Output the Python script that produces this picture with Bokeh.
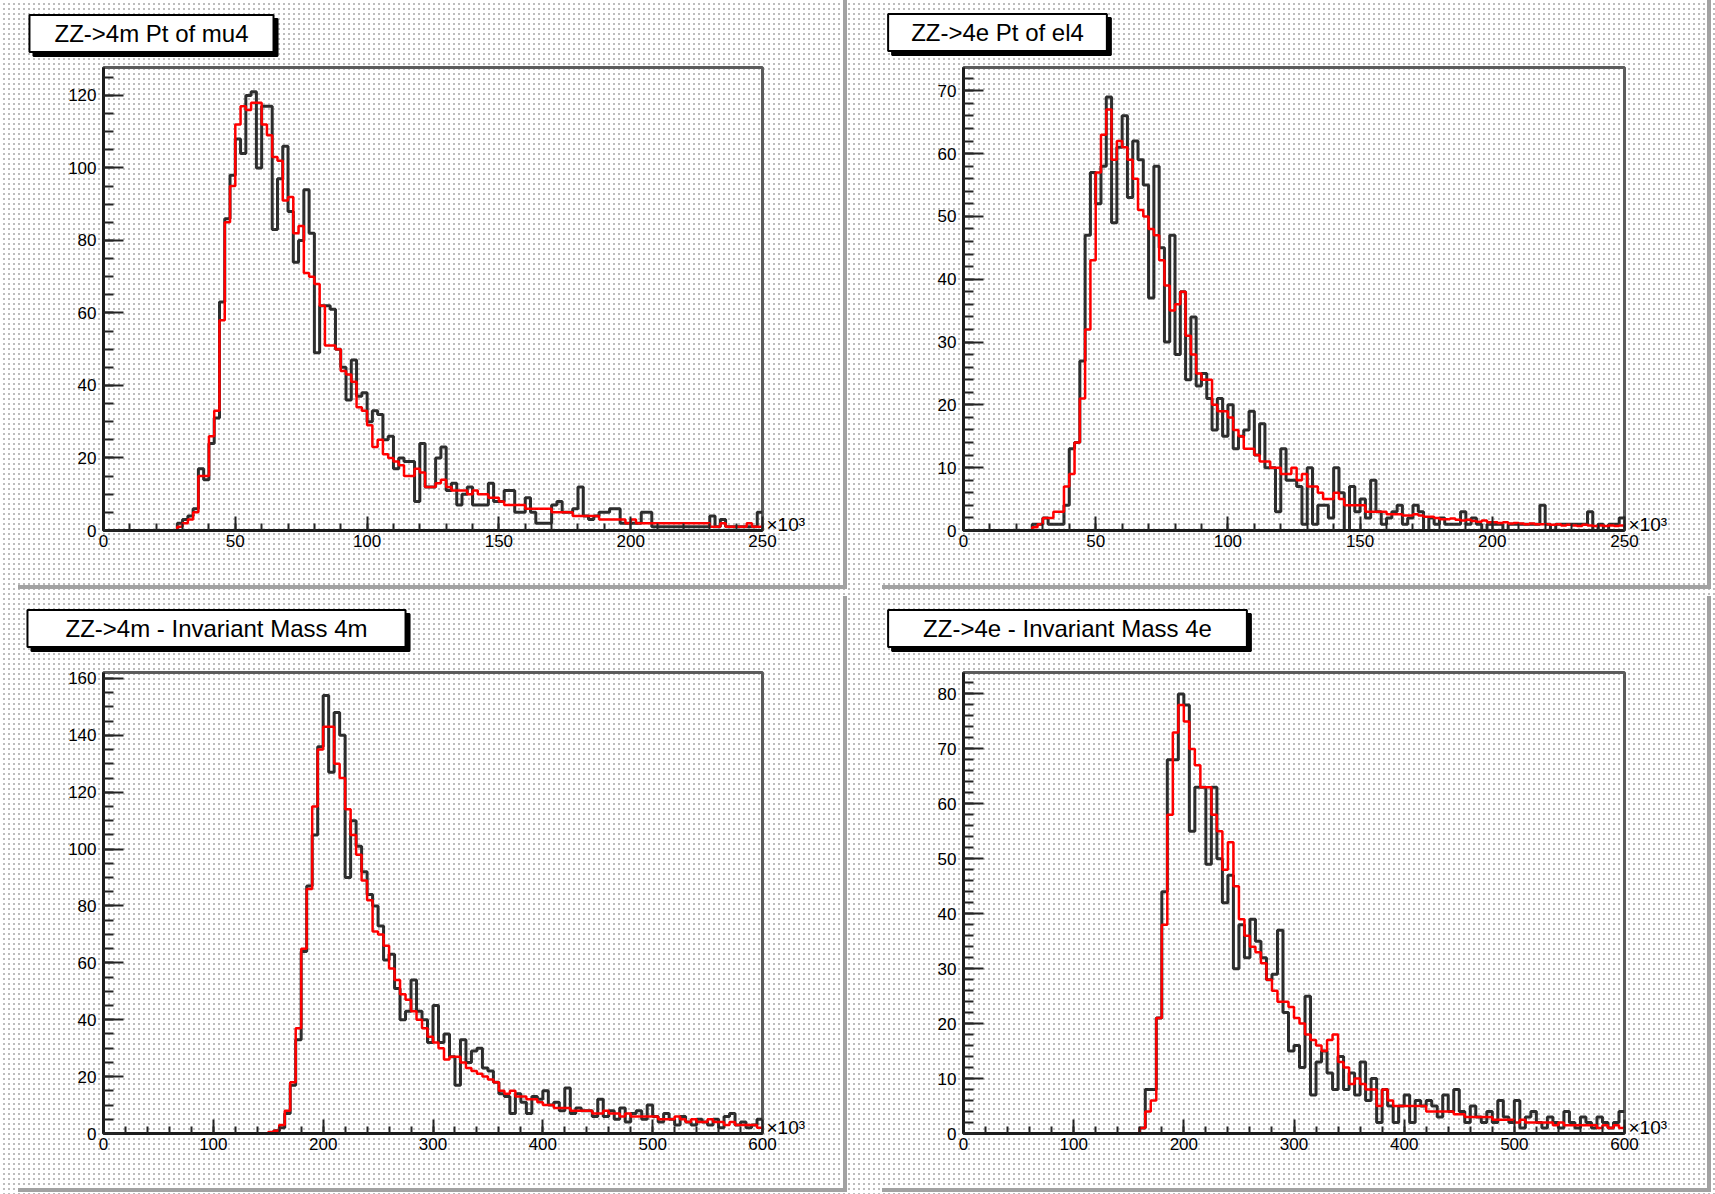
import numpy as np
from bokeh.plotting import figure
from bokeh.layouts import column, row
from bokeh.models import Range1d, SingleIntervalTicker, Label
from bokeh.embed import file_html
from bokeh.resources import INLINE

# ---------------- data ----------------
TITLES = ["ZZ->4m Pt of mu4", "ZZ->4e Pt of el4",
          "ZZ->4m - Invariant Mass 4m", "ZZ->4e - Invariant Mass 4e"]

PT_BIN_WIDTH = 2.0     # units of 10^3
MASS_BIN_WIDTH = 5.0   # units of 10^3

MU_PT_BLACK = [
    0, 0, 0, 0, 0, 0, 0, 0, 0, 0,
    0, 0, 0, 0, 2, 3, 4, 6, 17, 14,
    24, 31, 63, 86, 98, 108, 104, 120, 121, 100,
    117, 117, 83, 97, 106, 88, 74, 80, 94, 82,
    49, 62, 62, 61, 50, 45, 36, 47, 37, 38,
    30, 33, 32, 25, 26, 17, 20, 19, 19, 8,
    24, 12, 12, 20, 23, 11, 13, 7, 10, 12,
    7, 7, 7, 13, 8, 8, 11, 11, 5, 5,
    9, 5, 2, 2, 2, 7, 8, 5, 5, 6,
    12, 4, 3, 4, 5, 5, 6, 6, 2, 2,
    2, 2, 5, 5, 1, 1, 1, 1, 1, 1,
    1, 1, 1, 1, 1, 4, 1, 3, 1, 1,
    1, 1, 1, 1, 5]
MU_PT_RED = [
    0, 0, 0, 0, 0, 0, 0, 0, 0, 0,
    0, 0, 0, 0, 1, 2, 3, 5, 15, 15,
    26, 33, 58, 85, 95, 112, 117, 116, 118, 118,
    112, 109, 103, 102, 91, 92, 82, 84, 71, 70,
    68, 62, 51, 51, 50, 44, 43, 41, 34, 33,
    29, 23, 25, 21, 20, 19, 18, 15, 15, 17,
    16, 12, 12, 13, 14, 12, 11, 11, 11, 10,
    11, 10, 10, 9, 9, 8, 7, 7, 7, 7,
    6, 6, 6, 6, 6, 5, 5, 5, 5, 4,
    4, 4, 4, 4, 3, 3, 3, 3, 3, 2,
    3, 2, 2, 2, 2, 2, 2, 2, 2, 2,
    2, 2, 2, 2, 2, 1, 1, 2, 1, 1,
    1, 1, 2, 1, 1]

EL_PT_BLACK = [
    0, 0, 0, 0, 0, 0, 0, 0, 0, 0,
    0, 0, 0, 1, 1, 2, 1, 1, 1, 4,
    13, 14, 27, 47, 57, 52, 58, 69, 49, 61,
    66, 53, 62, 59, 55, 37, 58, 45, 30, 47,
    28, 38, 24, 34, 23, 25, 21, 16, 21, 15,
    20, 13, 15, 16, 19, 12, 17, 10, 10, 3,
    13, 8, 8, 7, 1, 10, 1, 4, 4, 2,
    10, 6, 0, 7, 3, 5, 2, 8, 3, 1,
    2, 3, 4, 1, 2, 4, 3, 0, 2, 1,
    2, 1, 1, 1, 3, 1, 2, 1, 0, 1,
    1, 1, 0, 1, 1, 1, 1, 1, 1, 4,
    1, 0, 1, 1, 1, 1, 1, 1, 3, 0,
    1, 0, 1, 1, 2]
EL_PT_RED = [
    0, 0, 0, 0, 0, 0, 0, 0, 0, 0,
    0, 0, 0, 0.5, 1, 2, 2, 3, 3, 7,
    9, 14, 21, 32, 43, 57, 63, 67, 59, 62,
    61, 59, 56, 51, 50, 48, 47, 43, 39, 35,
    36, 38, 31, 28, 25, 24, 24, 20, 19, 19,
    18, 16, 15, 13, 13, 12, 11, 11, 10, 10,
    9, 9, 10, 8, 9, 7, 7, 6, 5, 5,
    6, 5, 4, 4, 4, 4, 3, 3, 3, 3,
    2.6, 2.6, 2.6, 2.4, 2.4, 2.6, 2.4, 2.2, 2.2, 2,
    1.8, 1.8, 1.9, 1.7, 1.6, 1.7, 1.5, 1.4, 1.6, 1.3,
    1.3, 1.2, 1.3, 1.1, 1.2, 1.1, 1, 1.1, 1, 1,
    1, 0.9, 1, 0.8, 0.9, 0.8, 0.7, 0.9, 0.8, 0.7,
    0.8, 0.7, 0.8, 0.7, 0.8]

MU_MASS_BLACK = [
    0, 0, 0, 0, 0, 0, 0, 0, 0, 0,
    0, 0, 0, 0, 0, 0, 0, 0, 0, 0,
    0, 0, 0, 0, 0, 0, 0, 0, 0, 0,
    0, 1, 2, 7, 17, 33, 64, 87, 105, 136,
    154, 127, 148, 140, 90, 110, 101, 92, 84, 80,
    73, 61, 63, 51, 40, 43, 54, 43, 40, 32,
    45, 32, 35, 27, 17, 33, 25, 29, 30, 23,
    22, 18, 14, 13, 7, 14, 11, 7, 13, 12,
    15, 10, 11, 8, 16, 7, 9, 8, 8, 6,
    12, 6, 8, 5, 9, 4, 7, 8, 5, 10,
    6, 4, 7, 5, 3, 6, 4, 3, 5, 4,
    3, 5, 2, 6, 7, 3, 4, 2, 3, 5]
MU_MASS_RED = [
    0, 0, 0, 0, 0, 0, 0, 0, 0, 0,
    0, 0, 0, 0, 0, 0, 0, 0, 0, 0,
    0, 0, 0, 0, 0, 0, 0, 0, 0, 0,
    0.5, 1, 3, 8, 18, 37, 65, 86, 115, 135,
    143, 143, 130, 125, 114, 105, 98, 89, 82, 71,
    70, 66, 58, 54, 49, 47, 43, 40, 37, 34,
    32, 30, 26, 27, 27, 25, 23, 22, 21, 20,
    19, 18, 15, 14, 15, 13, 13, 12, 12, 11,
    10, 10, 9, 9, 9, 8, 8, 8, 8, 7,
    7, 8, 7, 7, 6, 7, 6, 6, 6, 6,
    6, 5, 5, 5, 6, 5, 4, 5, 4, 4,
    5, 4, 4, 3, 4, 3, 3, 3, 3, 2]

EL_MASS_BLACK = [
    0, 0, 0, 0, 0, 0, 0, 0, 0, 0,
    0, 0, 0, 0, 0, 0, 0, 0, 0, 0,
    0, 0, 0, 0, 0, 0, 0, 0, 0, 0,
    0, 0, 1, 8, 8, 21, 44, 68, 68, 80,
    78, 55, 63, 63, 49, 63, 50, 42, 47, 30,
    38, 32, 39, 35, 32, 28, 29, 37, 22, 15,
    16, 12, 25, 7, 13, 15, 11, 8, 14, 8,
    11, 7, 13, 6, 10, 2, 8, 5, 2, 5,
    7, 2, 6, 5, 6, 5, 3, 7, 4, 8,
    4, 2, 5, 3, 2, 4, 2, 6, 3, 2,
    6, 1, 3, 4, 2, 1, 3, 2, 1, 4,
    2, 1, 3, 2, 1, 3, 2, 1, 2, 4]
EL_MASS_RED = [
    0, 0, 0, 0, 0, 0, 0, 0, 0, 0,
    0, 0, 0, 0, 0, 0, 0, 0, 0, 0,
    0, 0, 0, 0, 0, 0, 0, 0, 0, 0,
    0, 0, 1, 4, 6, 21, 38, 58, 73, 78,
    75, 70, 67, 63, 63, 58, 55, 48, 53, 45,
    39, 36, 34, 33, 31, 28, 26, 24, 24, 23,
    21, 20, 18, 17, 16, 15, 17, 18, 13, 12,
    9, 10, 9, 8, 8, 5, 8, 6, 5, 5,
    5, 5, 5, 5, 4, 4, 4, 4, 4, 3.5,
    3.5, 3, 3, 3, 3, 3, 2.5, 2.5, 2.5, 2.5,
    2, 2.5, 2, 2, 2, 2, 2, 1.5, 2, 1.5,
    1.5, 1.5, 1.5, 1.5, 1.5, 1, 1.5, 1, 1.5, 1]

X_MAX = [250, 250, 600, 600]
Y_MAX = [127.7, 73.7, 162.1, 83.9]
X_TICK = [50, 50, 100, 100]
Y_TICK = [20, 10, 20, 10]
Y_MINOR = [4, 5, 4, 5]
BIN_WIDTH = [PT_BIN_WIDTH, PT_BIN_WIDTH, MASS_BIN_WIDTH, MASS_BIN_WIDTH]
BLACK = [MU_PT_BLACK, EL_PT_BLACK, MU_MASS_BLACK, EL_MASS_BLACK]
RED = [MU_PT_RED, EL_PT_RED, MU_MASS_RED, EL_MASS_RED]

# ---------------- layout ----------------
PAD_W = 829
PAD_H = [598, 598, 596, 596]
SHIFT = [-13, -13, -6, -6]            # visual upward shift of each pad
MARGINS = [(0, 14, 0, 14), (0, 8, 0, 21), (0, 14, 0, 14), (0, 8, 0, 21)]   # top,right,bottom,left
BORDERS = [(89, 81, 80, 55), (85, 83, 80, 55), (89, 81, 80, 55), (85, 83, 80, 55)]  # l,r,t,b
TITLE_BOX = [(137, 46, 25), (119, 45, 23), (202, 36, 38), (189, 36, 35)]   # centre x, centre y, pad-x

FONT = "Liberation Sans"


def make_panel(i):
    bl, br, bt, bb = BORDERS[i]
    p = figure(width=PAD_W, height=PAD_H[i],
               x_range=Range1d(0, X_MAX[i]), y_range=Range1d(0, Y_MAX[i]),
               output_backend="svg", toolbar_location=None,
               margin=MARGINS[i],
               min_border_left=bl, min_border_right=br,
               min_border_top=bt, min_border_bottom=bb,
               background_fill_color=None, border_fill_color=None,
               outline_line_color="#5c5c5c", outline_line_width=3,
               styles={"box-shadow": "4px 4px 0px 0px #a2a2a2",
                       "position": "relative", "top": f"{SHIFT[i]}px"})
    p.xgrid.grid_line_color = None
    p.ygrid.grid_line_color = None

    bw = BIN_WIDTH[i]
    blk = BLACK[i]
    red = RED[i]
    edges = np.arange(len(blk) + 1) * bw
    p.step(edges, list(blk) + [blk[-1]], mode="after",
           line_color="#2e2e2e", line_width=3)
    p.step(edges, list(red) + [red[-1]], mode="after",
           line_color="#ff0000", line_width=2.5)

    xa, ya = p.xaxis[0], p.yaxis[0]
    xa.ticker = SingleIntervalTicker(interval=X_TICK[i], num_minor_ticks=5)
    ya.ticker = SingleIntervalTicker(interval=Y_TICK[i], num_minor_ticks=Y_MINOR[i])
    for ax in (xa, ya):
        ax.axis_line_color = "#1c1c1c"
        ax.axis_line_width = 3
        ax.major_tick_line_color = "#262626"
        ax.major_tick_line_width = 2
        ax.minor_tick_line_color = "#262626"
        ax.minor_tick_line_width = 2
        ax.major_tick_out = 0
        ax.minor_tick_out = 0
        ax.major_label_text_font = FONT
        ax.major_label_text_font_size = "17px"
        ax.major_label_text_color = "black"
    xa.major_tick_in = 14
    xa.minor_tick_in = 7
    xa.major_label_standoff = 4
    ya.major_tick_in = 20
    ya.minor_tick_in = 10
    ya.major_label_standoff = 7

    # title box with drop shadow (labels live in the "above" panel, canvas units)
    cx, cy, padx = TITLE_BOX[i]
    common = dict(x_units="canvas", y_units="canvas", text=TITLES[i],
                  text_font=FONT, text_font_size="24px",
                  text_align="center", text_baseline="middle",
                  border_line_width=2, padding=(padx, 5))
    p.add_layout(Label(x=cx + 4, y=cy + 4, text_color="black",
                       background_fill_color="black",
                       border_line_color="black", **common), "above")
    p.add_layout(Label(x=cx, y=cy, text_color="black",
                       background_fill_color="white",
                       border_line_color="black", **common), "above")

    # x10^3 exponent marker at the right end of the x axis
    p.add_layout(Label(x=PAD_W - br + 4, y=PAD_H[i] - bb - 6,
                       x_units="canvas", y_units="canvas",
                       text="×10³", text_font=FONT, text_font_size="19px",
                       text_align="left", text_baseline="alphabetic",
                       text_color="black"), "right")
    return p


panels = [make_panel(i) for i in range(4)]

layout = column(
    row(panels[0], panels[1]),
    row(panels[2], panels[3]),
    styles={
        "background-color": "#ffffff",
        "background-image": "conic-gradient(from 90deg at 3px 3px, #bdbdbd 90deg, #ffffff 0)",
        "background-size": "5px 5px",
    },
)

open("out.html", "w").write(file_html(layout, INLINE))
